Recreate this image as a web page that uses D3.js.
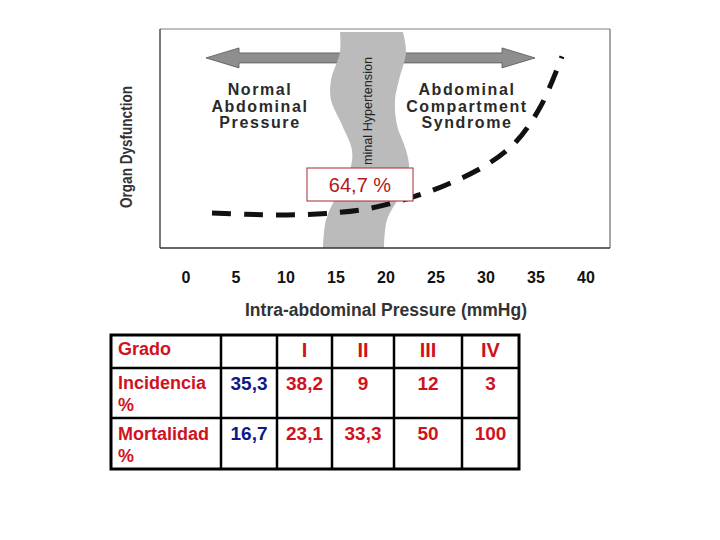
<!DOCTYPE html>
<html>
<head>
<meta charset="utf-8">
<script src="https://cdn.jsdelivr.net/npm/d3@7"></script>
<style>
  body { margin: 0; background: #fff; }
  svg { font-family: "Liberation Sans", Arial, sans-serif; }
</style>
</head>
<body>
<svg id="chart" width="720" height="540"></svg>
<script>
/* Pressure tick labels (mmHg). */
const pressureTicks = [0, 5, 10, 15, 20, 25, 30, 35, 40];

/* Dashed organ dysfunction curve. */
const curvePressure = [2.6, 6, 10, 14, 18, 22, 26, 30, 33, 35.5, 37.6];
const curveDysfunction = [16, 15.4, 15.1, 15.8, 17.8, 22.3, 28.8, 37.8, 48.5, 65, 87.5];

/* Wavy hypertension band: left/right edge (mmHg) at each level. */
const bandLevel = [98.6, 89.5, 76.7, 67.6, 56.2, 44.7, 35.6, 24.2, 12.8, 0];
const bandLeft = [15.4, 15.4, 14.5, 14.5, 15.6, 16.6, 16.4, 15.1, 14.0, 13.7];
const bandRight = [21.7, 22.0, 21.3, 20.9, 21.1, 22.0, 22.3, 21.4, 20.1, 19.8];

/* Annotations. */
const leftZone = ["Normal", "Abdominal", "Pressure"];
const rightZone = ["Abdominal", "Compartment", "Syndrome"];
const bandLabel = "minal Hypertension";
const highlight = "64,7 %";

/* Table content. */
const grades = ["", "I", "II", "III", "IV"];
const incidencia = ["35,3", "38,2", "9", "12", "3"];
const mortalidad = ["16,7", "23,1", "33,3", "50", "100"];

/* Layout. */
const box = { left: 160, top: 29, right: 610, bottom: 248 };
const colEdges = [111, 221, 277, 332, 394, 462, 519];
const rowEdges = [335, 368, 418, 469];
const red = "#d0121e";
const blue = "#10188a";

const svg = d3.select("#chart");

const x = d3.scaleLinear().domain([-2.6, 42.4]).range([box.left, box.right]);
const y = d3.scaleLinear().domain([0, 100]).range([box.bottom, box.top]);

// ---------------- plot frame ---------------- //
svg.append("rect")
  .attr("x", box.left).attr("y", box.top)
  .attr("width", box.right - box.left).attr("height", box.bottom - box.top)
  .attr("fill", "#fff");

/* Double-headed arrow behind the band. */
const ax1 = x(2), ax2 = x(34.9), ay = y(86.8);
const head = 33;
svg.append("path")
  .attr("d", d3.line()([
    [ax1, ay], [ax1 + head, ay - 10], [ax1 + head, ay - 5], [ax2 - head, ay - 5],
    [ax2 - head, ay - 10], [ax2, ay], [ax2 - head, ay + 10], [ax2 - head, ay + 5],
    [ax1 + head, ay + 5], [ax1 + head, ay + 10]
  ]) + "Z")
  .attr("fill", "#8e8e8e")
  .attr("stroke", "#555")
  .attr("stroke-width", 0.8);

/* Hypertension band. */
const bandData = bandLevel.map((l, i) => ({ l, a: bandLeft[i], b: bandRight[i] }));
svg.append("path")
  .datum(bandData)
  .attr("d", d3.area()
    .y(d => y(d.l))
    .x0(d => x(d.a))
    .x1(d => x(d.b))
    .curve(d3.curveCatmullRom))
  .attr("fill", "#bbbbbb");

svg.append("text")
  .attr("transform", "translate(372,165) rotate(-90)")
  .attr("font-size", 13.5)
  .attr("fill", "#222")
  .attr("textLength", 108)
  .attr("lengthAdjust", "spacingAndGlyphs")
  .text(bandLabel);

/* Zone labels. */
function zoneLabel(lines, cx) {
  svg.append("g").selectAll("text")
    .data(lines)
    .join("text")
    .attr("x", cx)
    .attr("y", (d, i) => 95 + i * 16.5)
    .attr("text-anchor", "middle")
    .attr("font-size", 16)
    .attr("font-weight", "bold")
    .attr("letter-spacing", 1.6)
    .attr("fill", "#2a2a2a")
    .text(d => d);
}
zoneLabel(leftZone, x(7.4));
zoneLabel(rightZone, x(28.1));

/* Dashed curve. */
const curveData = curvePressure.map((p, i) => [x(p), y(curveDysfunction[i])]);
svg.append("path")
  .attr("d", d3.line().curve(d3.curveCatmullRom)(curveData))
  .attr("fill", "none")
  .attr("stroke", "#111")
  .attr("stroke-width", 5)
  .attr("stroke-dasharray", "19,13");

/* Highlight box. */
svg.append("rect")
  .attr("x", 307).attr("y", 168)
  .attr("width", 106).attr("height", 33)
  .attr("fill", "#fff")
  .attr("stroke", "#a52a2a")
  .attr("stroke-width", 1);
svg.append("text")
  .attr("x", 360).attr("y", 192)
  .attr("text-anchor", "middle")
  .attr("font-size", 20)
  .attr("fill", "#b01a20")
  .text(highlight);

/* Frame borders. */
const borders = [
  [box.left, box.top, box.right, box.top, "#aaa"],
  [box.right, box.top, box.right, box.bottom, "#777"],
  [box.left, box.top, box.left, box.bottom, "#333"],
  [box.left, box.bottom, box.right, box.bottom, "#333"]
];
svg.append("g").selectAll("line")
  .data(borders)
  .join("line")
  .attr("x1", d => d[0]).attr("y1", d => d[1])
  .attr("x2", d => d[2]).attr("y2", d => d[3])
  .attr("stroke", d => d[4])
  .attr("stroke-width", 1.3);

// ---------------- axes ---------------- //
svg.append("g").selectAll("text")
  .data(pressureTicks)
  .join("text")
  .attr("x", d => x(d))
  .attr("y", 283)
  .attr("text-anchor", "middle")
  .attr("font-size", 16)
  .attr("font-weight", "bold")
  .attr("fill", "#111")
  .text(d => d);

svg.append("text")
  .attr("x", x(20)).attr("y", 316)
  .attr("text-anchor", "middle")
  .attr("font-size", 17.5)
  .attr("font-weight", "bold")
  .attr("fill", "#333")
  .text("Intra-abdominal Pressure (mmHg)");

svg.append("text")
  .attr("transform", "translate(132,147) rotate(-90)")
  .attr("text-anchor", "middle")
  .attr("font-size", 16)
  .attr("font-weight", "bold")
  .attr("fill", "#333")
  .attr("textLength", 122)
  .attr("lengthAdjust", "spacingAndGlyphs")
  .text("Organ Dysfunction");

// ---------------- table ---------------- //
const table = svg.append("g");
const colCenter = i => (colEdges[i + 1] + colEdges[i + 2]) / 2;

const rows = [
  { label: ["Grado"], labelY: 355, values: grades, valueY: 357, size: 20 },
  { label: ["Incidencia", "%"], labelY: 389, values: incidencia, valueY: 390, size: 19 },
  { label: ["Mortalidad", "%"], labelY: 440, values: mortalidad, valueY: 440, size: 19 }
];

rows.forEach((r, ri) => {
  table.append("g").selectAll("text")
    .data(r.label)
    .join("text")
    .attr("x", 118)
    .attr("y", (d, i) => r.labelY + i * 21.5)
    .attr("font-size", 18)
    .attr("font-weight", "bold")
    .attr("fill", red)
    .text(d => d);
  table.append("g").selectAll("text")
    .data(r.values)
    .join("text")
    .attr("x", (d, i) => colCenter(i))
    .attr("y", r.valueY)
    .attr("text-anchor", "middle")
    .attr("font-size", r.size)
    .attr("font-weight", "bold")
    .attr("fill", (d, i) => (ri > 0 && i === 0) ? blue : red)
    .text(d => d);
});

/* Grid lines. */
table.append("g").selectAll("line.v")
  .data(colEdges.slice(1, -1))
  .join("line")
  .attr("x1", d => d).attr("x2", d => d)
  .attr("y1", rowEdges[0]).attr("y2", rowEdges[3])
  .attr("stroke", "#000").attr("stroke-width", 2.5);
table.append("g").selectAll("line.h")
  .data(rowEdges.slice(1, -1))
  .join("line")
  .attr("x1", colEdges[0]).attr("x2", colEdges[6])
  .attr("y1", d => d).attr("y2", d => d)
  .attr("stroke", "#000").attr("stroke-width", 2.5);
table.append("rect")
  .attr("x", colEdges[0]).attr("y", rowEdges[0])
  .attr("width", colEdges[6] - colEdges[0])
  .attr("height", rowEdges[3] - rowEdges[0])
  .attr("fill", "none")
  .attr("stroke", "#000")
  .attr("stroke-width", 3);
</script>
</body>
</html>
